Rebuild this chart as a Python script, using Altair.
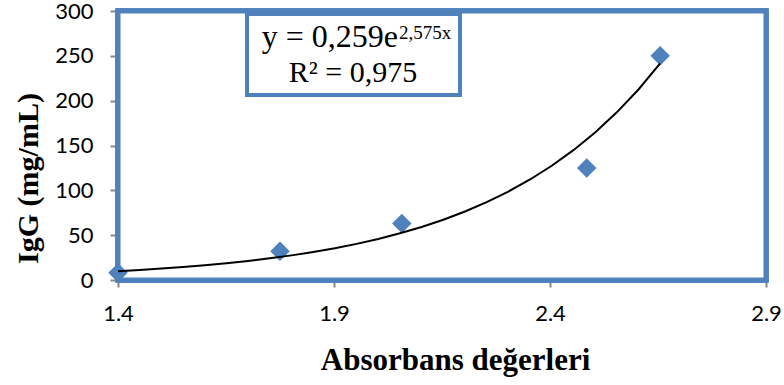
import altair as alt
import pandas as pd

# ---- data ----
absorbance = [1.4, 1.775, 2.057, 2.485, 2.655]
igg = [8, 32, 63, 125, 250]
x_ticks = [1.4, 1.9, 2.4, 2.9]
y_ticks = [0, 50, 100, 150, 200, 250, 300]
eq_main = ["y = 0,259e"]
eq_sup = ["2,575x"]
r2_text = ["R² = 0,975"]
x_title = "Absorbans değerleri"
y_title = "IgG (mg/mL)"

BLUE = "#4F81BD"
GRAY = "#868686"

df = pd.DataFrame({"x": absorbance, "y": igg})

xscale = alt.Scale(domain=[1.4, 2.9], nice=False, zero=False)
yscale = alt.Scale(domain=[0, 300], nice=False)

xaxis = alt.Axis(
    values=x_ticks, format=".1f", title=x_title, grid=False, domain=False,
    tickColor=GRAY, tickSize=7, tickWidth=2, labelFlush=False, labelOverlap=False,
    labelFont="Lato", labelFontSize=22, labelColor="black", labelPadding=16,
    titleFont="Liberation Serif", titleFontSize=31, titleFontWeight="bold",
    titleColor="black", titleAlign="center", titleBaseline="alphabetic",
    titleX=337, titleY=89,
)
yaxis = alt.Axis(
    values=y_ticks, format="d", title=y_title, grid=False, domain=False,
    tickColor=GRAY, tickSize=8, tickWidth=2, labelFlush=False, labelOverlap=False,
    labelFont="Lato", labelFontSize=22, labelColor="black", labelPadding=17,
    titleFont="Liberation Serif", titleFontSize=30, titleFontWeight="bold",
    titleColor="black", titleAlign="center", titleBaseline="alphabetic",
    titleAngle=270, titleX=-81, titleY=167,
)

base = alt.Chart(df)

frame = base.mark_rect(fill="white", stroke=BLUE, strokeWidth=5).encode(
    x=alt.value(0), x2=alt.value(648), y=alt.value(0), y2=alt.value(269)
)

box = base.mark_rect(fill="white", stroke=BLUE, strokeWidth=4).encode(
    x=alt.value(129), x2=alt.value(342), y=alt.value(3), y2=alt.value(84)
)

points = base.mark_point(shape="diamond", filled=True, size=380, color=BLUE, opacity=1).encode(
    x=alt.X("x:Q", scale=xscale, axis=xaxis),
    y=alt.Y("y:Q", scale=yscale, axis=yaxis),
)

trend = (
    base.transform_calculate(ly="log(datum.y)")
    .transform_regression("x", "ly", method="poly", order=1)
    .transform_calculate(yfit="exp(datum.ly)")
    .mark_line(color="black", strokeWidth=2)
    .encode(x=alt.X("x:Q", scale=xscale), y=alt.Y("yfit:Q", scale=yscale))
)

t_main = alt.Chart(pd.DataFrame({"t": eq_main})).mark_text(
    font="Liberation Serif", fontSize=32, align="right", baseline="alphabetic", color="black"
).encode(text="t:N", x=alt.value(280), y=alt.value(36))

t_sup = alt.Chart(pd.DataFrame({"t": eq_sup})).mark_text(
    font="Liberation Serif", fontSize=19, align="left", baseline="alphabetic", color="black"
).encode(text="t:N", x=alt.value(281), y=alt.value(28))

t_r2 = alt.Chart(pd.DataFrame({"t": r2_text})).mark_text(
    font="Liberation Serif", fontSize=30, align="center", baseline="alphabetic", color="black"
).encode(text="t:N", x=alt.value(235), y=alt.value(71))

chart = (
    alt.layer(frame, box, points, trend, t_main, t_sup, t_r2)
    .properties(
        width=648, height=269,
        padding={"left": 118, "top": 11, "right": 18, "bottom": 105},
        autosize=alt.AutoSizeParams(type="none"),
    )
    .configure(background="white")
    .configure_view(stroke=None, strokeWidth=0)
)

chart.save("out.html", embed_options={"renderer": "svg", "actions": False})
